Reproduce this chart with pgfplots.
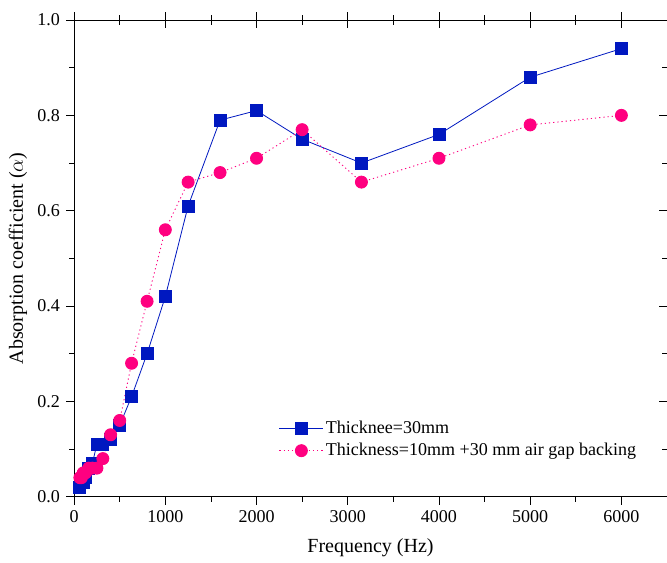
\documentclass[border=0pt]{standalone}
\usepackage{pgfplots}
\pgfplotsset{compat=1.18}
\usepackage{fontspec}
\setmainfont{Liberation Serif}
\definecolor{cblue}{RGB}{0,24,192}
\definecolor{cpink}{RGB}{255,0,128}
\begin{document}
\fontsize{18}{21}\selectfont
\begin{tikzpicture}
\begin{axis}[
  scale only axis,
  width=592pt, height=476pt,
  xmin=0, xmax=6500, ymin=0, ymax=1.0,
  xtick={0,1000,...,6000},
  minor xtick={500,1500,...,6500},
  ytick={0,0.2,...,1.0},
  minor ytick={0.1,0.3,...,0.9},
  yticklabel style={/pgf/number format/.cd,fixed,fixed zerofill,precision=1},
  xticklabel style={/pgf/number format/.cd,fixed,1000 sep={}},
  /pgf/number format/assume math mode=true,
  scaled x ticks=false,
  tick align=outside,
  major tick length=8pt, minor tick length=5pt,
  every tick/.style={black, line width=0.8pt},
  axis line style={line width=0.8pt},
  xlabel={Frequency (Hz)},
  ylabel={Absorption coefficient ($\alpha$)},
  xlabel style={font=\fontsize{20}{22}\selectfont, yshift=-3pt},
  ylabel style={font=\fontsize{20}{22}\selectfont, yshift=-2pt},
  ticklabel style={font=\fontsize{18}{20}\selectfont},
  legend style={draw=none, fill=none, at={(0.34,0.168)}, anchor=north west,
    font=\fontsize{18}{21}\selectfont, row sep=3pt},
  legend cell align=left,
  legend image code/.code={\draw[mark repeat=2,mark phase=2,#1] plot coordinates {(0pt,0pt) (22pt,0pt) (44pt,0pt)};},
  clip=false,
]
% inward ticks on top and right
\pgfplotsextra{
  \foreach \x in {0,1000,...,6000} {\draw[line width=0.8pt] (axis cs:\x,1.0) -- ++(0,-8pt);}
  \foreach \x in {500,1500,...,6500} {\draw[line width=0.8pt] (axis cs:\x,1.0) -- ++(0,-5pt);}
  \foreach \y in {0,0.2,...,1.0} {\draw[line width=0.8pt] (axis cs:6500,\y) -- ++(-8pt,0);}
  \foreach \y in {0.1,0.3,...,0.9} {\draw[line width=0.8pt] (axis cs:6500,\y) -- ++(-5pt,0);}
}
\addplot[cblue, line width=0.8pt, mark=square*, mark size=6pt, mark options={solid, fill=cblue, draw=cblue}]
coordinates {
(63,0.02) (80,0.03) (100,0.03) (125,0.04) (160,0.06) (200,0.07) (250,0.11) (315,0.11)
(400,0.12) (500,0.15) (630,0.21) (800,0.30) (1000,0.42) (1250,0.61) (1600,0.79)
(2000,0.81) (2500,0.75) (3150,0.70) (4000,0.76) (5000,0.88) (6000,0.94)
};
\addlegendentry{Thicknee=30mm}
\addplot[cpink, line width=0.9pt, dash pattern=on 1.2pt off 3pt, mark=*, mark size=6pt, mark options={solid, fill=cpink, draw=cpink}]
coordinates {
(63,0.04) (80,0.04) (100,0.05) (125,0.05) (160,0.06) (200,0.06) (250,0.06) (315,0.08)
(400,0.13) (500,0.16) (630,0.28) (800,0.41) (1000,0.56) (1250,0.66) (1600,0.68)
(2000,0.71) (2500,0.77) (3150,0.66) (4000,0.71) (5000,0.78) (6000,0.80)
};
\addlegendentry{Thickness=10mm +30 mm air gap backing}
\end{axis}
\pgfresetboundingbox
\path ([shift={(-74pt,-66pt)}]current axis.south west) rectangle ([shift={(0pt,20pt)}]current axis.north east);
\end{tikzpicture}
\end{document}
